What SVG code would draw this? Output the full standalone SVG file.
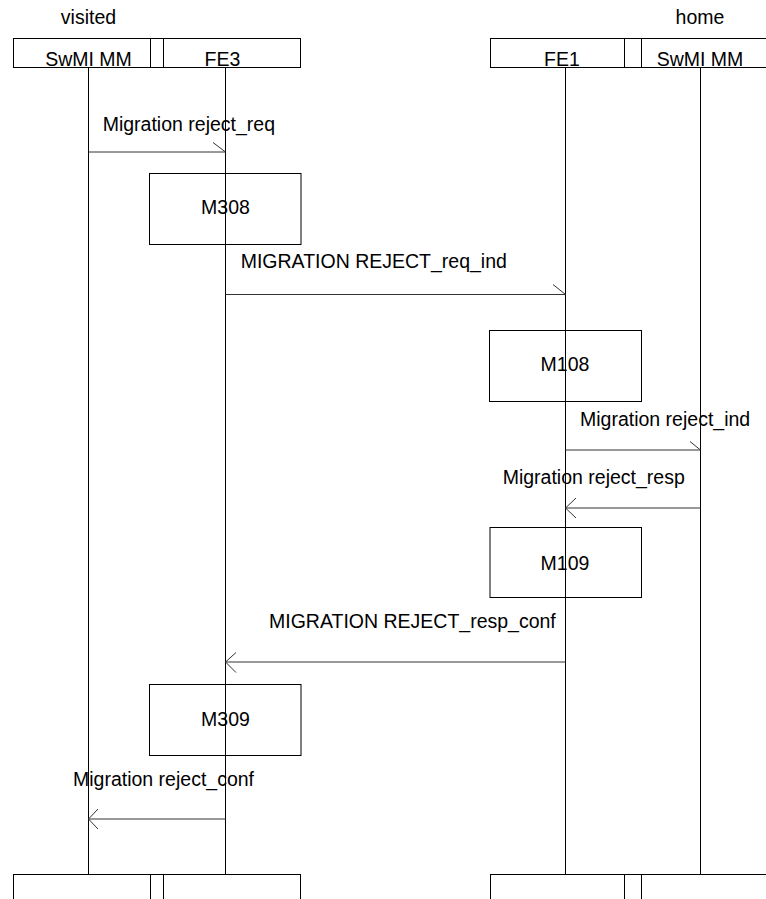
<svg xmlns="http://www.w3.org/2000/svg" width="766" height="899" viewBox="0 0 766 899">
<style>
text{font-family:"Liberation Sans",Arial,sans-serif;font-size:19.5px;fill:#000}
.c{text-anchor:middle}
.b{fill:none;stroke:#000;stroke-width:1}
.l{stroke:#000;stroke-width:1;fill:none}
.m{stroke:#333;stroke-width:1;fill:none}
</style>
<rect width="766" height="899" fill="#fff"/>
<g id="header-visited">
<text class="c" x="88.5" y="24">visited</text>
<rect class="b" x="13.5" y="38.5" width="287" height="29"/>
<line class="l" x1="150.5" y1="38.5" x2="150.5" y2="67.5"/>
<line class="l" x1="163.5" y1="38.5" x2="163.5" y2="67.5"/>
</g>
<g id="header-home">
<text class="c" x="700" y="24">home</text>
<rect class="b" x="490.5" y="38.5" width="290" height="29"/>
<line class="l" x1="624.5" y1="38.5" x2="624.5" y2="67.5"/>
<line class="l" x1="641.5" y1="38.5" x2="641.5" y2="67.5"/>
</g>
<g id="swmi-visited"><text class="c" x="88.5" y="66">SwMI MM</text><line class="l" x1="88.5" y1="67.5" x2="88.5" y2="874"/></g>
<g id="fe3"><text class="c" x="222.5" y="66">FE3</text><line class="l" x1="225.5" y1="67.5" x2="225.5" y2="874"/></g>
<g id="fe1"><text class="c" x="562" y="66">FE1</text><line class="l" x1="565.5" y1="67.5" x2="565.5" y2="874"/></g>
<g id="swmi-home"><text class="c" x="700" y="66">SwMI MM</text><line class="l" x1="700.5" y1="67.5" x2="700.5" y2="874"/></g>
<g id="footer-visited">
<rect class="b" x="13.5" y="874.5" width="287" height="40"/>
<line class="l" x1="150.5" y1="874.5" x2="150.5" y2="899"/>
<line class="l" x1="163.5" y1="874.5" x2="163.5" y2="899"/>
</g>
<g id="footer-home">
<rect class="b" x="490.5" y="874.5" width="290" height="40"/>
<line class="l" x1="624.5" y1="874.5" x2="624.5" y2="899"/>
<line class="l" x1="641.5" y1="874.5" x2="641.5" y2="899"/>
</g>
<g id="M308"><rect class="b" x="149.5" y="173.5" width="151.5" height="71"/><text class="c" x="225.5" y="214.3">M308</text></g>
<g id="M108"><rect class="b" x="489.5" y="330.5" width="152" height="71"/><text class="c" x="565" y="370.7">M108</text></g>
<g id="M109"><rect class="b" x="490" y="527.5" width="151.5" height="70"/><text class="c" x="565" y="570">M109</text></g>
<g id="M309"><rect class="b" x="149.5" y="684.5" width="151.5" height="71"/><text class="c" x="225.5" y="725.7">M309</text></g>
<g id="connectors">
<path class="m" d="M88.5 152H225.5M213 142.5L225.5 152"/>
<text x="102.7" y="130.5">Migration reject_req</text>
<path class="m" d="M225.5 294.5H565.5M553 284.5L565.5 294.5"/>
<text x="240.7" y="268">MIGRATION REJECT_req_ind</text>
<path class="m" d="M565.5 450H700.5M690 441.5L700.5 450"/>
<text x="580" y="426">Migration reject_ind</text>
<path class="m" d="M700.5 508H565.5M576 498L565.5 508L576 518"/>
<text x="502.7" y="484.3">Migration reject_resp</text>
<path class="m" d="M565.5 662H225.5M236 652.5L225.5 662L236 672.5"/>
<text x="269" y="628.3">MIGRATION REJECT_resp_conf</text>
<path class="m" d="M225.5 819H88.5M98 809L88.5 819L98 829"/>
<text x="73" y="785.7">Migration reject_conf</text>
</g>
</svg>
